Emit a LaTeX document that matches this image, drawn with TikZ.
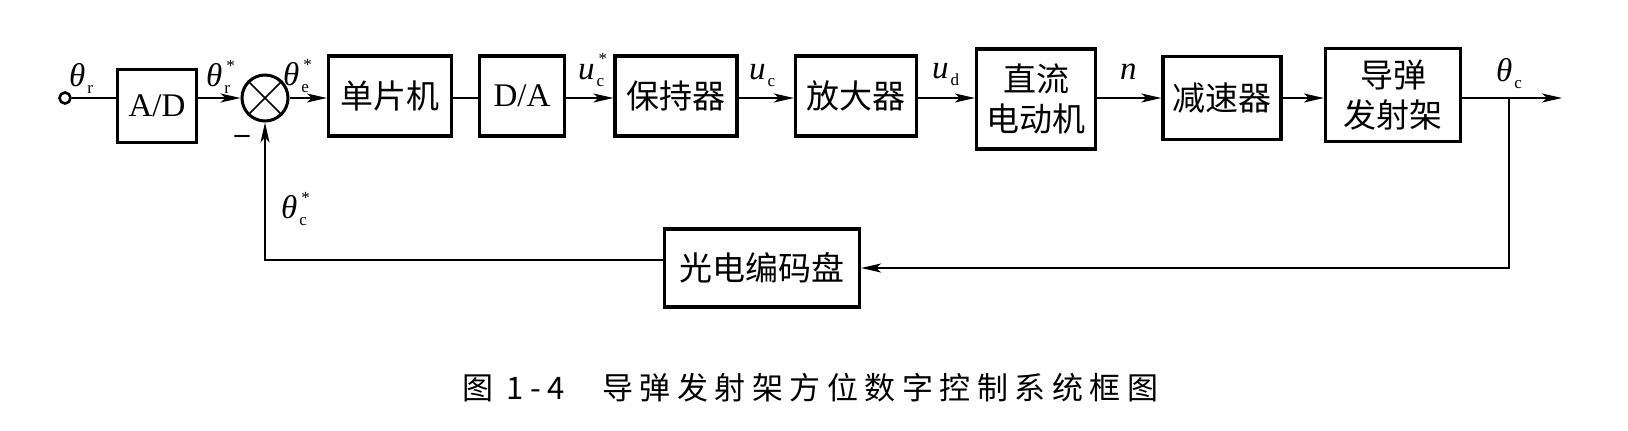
\documentclass[tikz,border=0pt]{standalone}
\usepackage{fontspec}
\setmainfont{Liberation Serif}
\newfontfamily\cjk{Noto Sans CJK SC}
\newfontfamily\capfont[LetterSpace=21]{Noto Sans CJK SC}
\usetikzlibrary{arrows.meta}

\newcommand{\subfnt}{\fontsize{17}{17}\selectfont}
\newcommand{\sigl}[3]{\textit{#1}\makebox[0pt][l]{\kern2pt\raisebox{-7pt}{\subfnt #2}}\raisebox{15pt}{\kern4pt\subfnt #3}}

\tikzset{
  block/.style={draw, line width=3.2pt, align=center, inner sep=0pt,
    font=\cjk\fontsize{33}{40}\selectfont},
  sig/.style={line width=1.7pt, -{Stealth[length=20pt,width=9pt,inset=5pt]}},
  wire/.style={line width=1.7pt},
  lbl/.style={anchor=base west, inner sep=0pt, font=\fontsize{33}{36}\selectfont}
}

\begin{document}
\begin{tikzpicture}[x=1pt,y=-1pt]
\useasboundingbox (0,0) rectangle (1628,431);
\node (in) [draw, circle, line width=2.6pt, minimum size=11pt, inner sep=0pt, fill=white] at (65,98) {};
\node (ad) [block, minimum width=79pt, minimum height=73pt] at (157,106) {\fontsize{33}{36}\selectfont\rmfamily A/D};
\node (sum) [draw, circle, line width=3pt, minimum size=46pt, inner sep=0pt] at (265,98) {};
\draw [line width=1.7pt] (sum.north west) -- (sum.south east) (sum.north east) -- (sum.south west);
\node (mcu) [block, minimum width=123pt, minimum height=80pt] at (390,96) {单片机};
\node (da) [block, minimum width=85pt, minimum height=80pt] at (522,96) {\fontsize{33}{36}\selectfont\rmfamily D/A};
\node (hold) [block, minimum width=122pt, minimum height=80pt] at (676,96) {保持器};
\node (amp) [block, minimum width=121pt, minimum height=80pt] at (856,96) {放大器};
\node (motor) [block, minimum width=119pt, minimum height=100pt] at (1036,99) {直流\\电动机};
\node (gear) [block, minimum width=118pt, minimum height=83pt] at (1222,98) {减速器};
\node (launch) [block, minimum width=135pt, minimum height=93pt] at (1393,95) {导弹\\发射架};
\node (enc) [block, minimum width=195pt, minimum height=78pt] at (762,268) {光电编码盘};
\coordinate (branch) at (1509,98);
\coordinate (out) at (1562,98);

% forward path
\draw [wire] (in) -- (ad.west |- in);
\draw [sig] (ad.east |- sum) -- (sum);
\draw [sig] (sum) -- (mcu.west |- sum);
\draw [wire] (mcu.east |- sum) -- (da.west |- sum);
\draw [sig] (da.east |- sum) -- (hold.west |- sum);
\draw [sig] (hold.east |- sum) -- (amp.west |- sum);
\draw [sig] (amp.east |- sum) -- (motor.west |- sum);
\draw [sig] (motor.east |- sum) -- (gear.west |- sum);
\draw [sig] (gear.east |- sum) -- (launch.west |- sum);
\draw [sig] (launch.east |- sum) -- (out);
% feedback
\draw [sig] (branch) |- (enc.east);
\draw [sig] ([yshift=8pt]enc.west) -| (sum.south);

\node (tr) [lbl] at (69,86.7) {\sigl{θ}{r}{}};
\node (trs) [lbl] at (206,86.7) {\sigl{θ}{r}{*}};
\node (tes) [lbl] at (283,85) {\sigl{θ}{e}{*}};
\node (minus) [inner sep=0pt, font=\fontsize{30}{36}\selectfont\bfseries] at (242,139) {–};
\node (ucs) [lbl] at (578,79.3) {\sigl{u}{c}{*}};
\node (uc) [lbl] at (749,79.3) {\sigl{u}{c}{}};
\node (ud) [lbl] at (932,78) {\sigl{u}{d}{}};
\node (nn) [lbl] at (1120,79) {\textit{n}};
\node (tc) [lbl] at (1496,81.7) {\sigl{θ}{c}{}};
\node (tcs) [lbl] at (281,218) {\sigl{θ}{c}{*}};

\node (fig) [anchor=west, inner sep=0pt, font=\capfont\fontsize{31}{31}\selectfont] at (462,388) {图 1-4};
\node (cap) [anchor=west, inner sep=0pt, font=\capfont\fontsize{31}{31}\selectfont] at (602,388) {导弹发射架方位数字控制系统框图};
\end{tikzpicture}
\end{document}
